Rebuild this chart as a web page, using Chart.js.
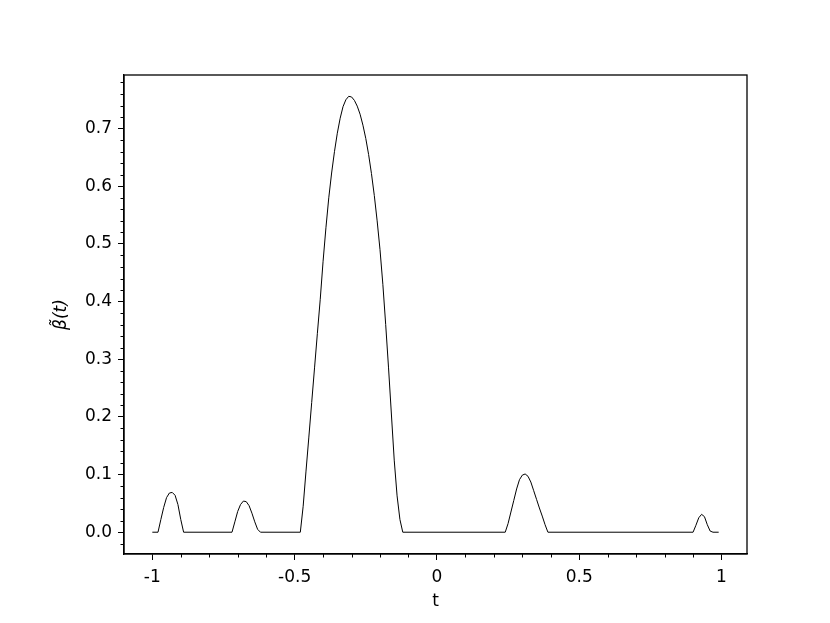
<!DOCTYPE html>
<html>
<head>
<meta charset="utf-8">
<script src="https://cdn.jsdelivr.net/npm/chart.js@4.4.1/dist/chart.umd.min.js"></script>
<style>
  body { margin: 0; background: #fff; }
  canvas { display: block; }
</style>
</head>
<body>
<canvas id="betaChart" width="830" height="623"></canvas>
<script>
// curve (flat stretches given by their end points)
const tValues = [
  -1, -0.98, -0.97, -0.96, -0.95, -0.94, -0.93, -0.92, -0.91, -0.90, -0.89,
  -0.72, -0.71, -0.70, -0.69, -0.68, -0.67, -0.66, -0.65, -0.64, -0.63, -0.62,
  -0.48, -0.47, -0.46, -0.45, -0.44, -0.43, -0.42, -0.41, -0.40, -0.39, -0.38,
  -0.37, -0.36, -0.35, -0.34, -0.33, -0.32, -0.31, -0.30, -0.29, -0.28, -0.27,
  -0.26, -0.25, -0.24, -0.23, -0.22, -0.21, -0.20, -0.19, -0.18, -0.17, -0.16,
  -0.15, -0.14, -0.13, -0.12,
  0.24, 0.25, 0.26, 0.27, 0.28, 0.29, 0.30, 0.31, 0.32, 0.33, 0.34, 0.35,
  0.36, 0.37, 0.38, 0.39,
  0.90, 0.91, 0.92, 0.93, 0.94, 0.95, 0.96, 0.97, 0.99
];
const betaValues = [
  0, 0, 0.022, 0.043, 0.060, 0.068, 0.069, 0.064, 0.048, 0.022, 0,
  0, 0.018, 0.036, 0.048, 0.054, 0.053, 0.046, 0.033, 0.018, 0.005, 0,
  0, 0.045, 0.106, 0.165, 0.225, 0.285, 0.345, 0.404, 0.470, 0.528, 0.580,
  0.623, 0.660, 0.692, 0.718, 0.738, 0.750, 0.756, 0.755, 0.749, 0.739, 0.725,
  0.706, 0.683, 0.655, 0.622, 0.584, 0.540, 0.490, 0.430, 0.360, 0.285, 0.205,
  0.125, 0.063, 0.022, 0,
  0, 0.015, 0.035, 0.055, 0.075, 0.091, 0.099, 0.101, 0.097, 0.087, 0.072, 0.057,
  0.042, 0.028, 0.013, 0,
  0, 0.012, 0.025, 0.031, 0.027, 0.013, 0.002, 0, 0
];

const xMajorTicks = [-1, -0.5, 0, 0.5, 1];
const xMinorTicks = [-0.9, -0.8, -0.7, -0.6, -0.4, -0.3, -0.2, -0.1,
  0.1, 0.2, 0.3, 0.4, 0.6, 0.7, 0.8, 0.9];
const yMajorTicks = [0, 0.1, 0.2, 0.3, 0.4, 0.5, 0.6, 0.7];
const yMinorTicks = [-0.02, 0.02, 0.04, 0.06, 0.08, 0.12, 0.14, 0.16, 0.18,
  0.22, 0.24, 0.26, 0.28, 0.32, 0.34, 0.36, 0.38, 0.42, 0.44, 0.46, 0.48,
  0.52, 0.54, 0.56, 0.58, 0.62, 0.64, 0.66, 0.68, 0.72, 0.74, 0.76, 0.78];

const FONT = "DejaVu Sans";
const FONT_SIZE = 17;
const AXIS_W = 1.3;

// box round the plot plus the short minor ticks
const framePlugin = {
  id: "frame",
  afterDraw(chart) {
    const { ctx, chartArea: a, scales } = chart;
    ctx.save();
    ctx.strokeStyle = "#000";
    ctx.lineWidth = 1;
    ctx.beginPath();
    xMinorTicks.forEach(v => {
      const px = Math.round(scales.x.getPixelForValue(v)) + 0.5;
      ctx.moveTo(px, a.bottom);
      ctx.lineTo(px, a.bottom + 3.5);
    });
    yMinorTicks.forEach(v => {
      const py = Math.round(scales.y.getPixelForValue(v)) + 0.5;
      ctx.moveTo(a.left, py);
      ctx.lineTo(a.left - 3.5, py);
    });
    ctx.stroke();
    ctx.lineWidth = AXIS_W;
    ctx.strokeRect(a.left, a.top, a.right - a.left, a.bottom - a.top);
    ctx.restore();
  }
};

const ctx = document.getElementById("betaChart").getContext("2d");

new Chart(ctx, {
  type: "line",
  data: {
    datasets: [{
      data: tValues.map((t, i) => ({ x: t, y: betaValues[i] })),
      borderColor: "#000",
      borderWidth: 1,
      pointRadius: 0,
      tension: 0,
      fill: false
    }]
  },
  options: {
    responsive: false,
    animation: false,
    layout: { padding: { left: 0, top: 75, right: 83, bottom: 0 } },
    plugins: {
      legend: { display: false },
      tooltip: { enabled: false }
    },
    scales: {
      x: {
        type: "linear",
        min: -1.0995,
        max: 1.0895,
        afterBuildTicks: s => { s.ticks = xMajorTicks.map(v => ({ value: v })); },
        afterFit: s => { s.height = 69; },
        ticks: {
          color: "#000",
          font: { family: FONT, size: FONT_SIZE },
          padding: 7,
          maxRotation: 0,
          callback: v => String(v)
        },
        grid: {
          drawOnChartArea: false,
          drawTicks: true,
          tickLength: 6,
          tickColor: "#000",
          tickWidth: 1
        },
        border: { display: true, color: "#000", width: AXIS_W },
        title: {
          display: true,
          text: "t",
          color: "#000",
          font: { family: FONT, size: FONT_SIZE },
          padding: { top: 0, bottom: 11 }
        }
      },
      y: {
        type: "linear",
        min: -0.0378,
        max: 0.793,
        afterBuildTicks: s => { s.ticks = yMajorTicks.map(v => ({ value: v })); },
        afterFit: s => { s.width = 124; },
        ticks: {
          color: "#000",
          font: { family: FONT, size: FONT_SIZE },
          padding: 6,
          callback: v => v.toFixed(1)
        },
        grid: {
          drawOnChartArea: false,
          drawTicks: true,
          tickLength: 6,
          tickColor: "#000",
          tickWidth: 1
        },
        border: { display: true, color: "#000", width: AXIS_W },
        title: {
          display: true,
          text: "β\u0303(t)",
          color: "#000",
          font: { family: FONT, size: FONT_SIZE, style: "italic" },
          padding: { top: 51, bottom: 0 }
        }
      }
    }
  },
  plugins: [framePlugin]
});
</script>
</body>
</html>
